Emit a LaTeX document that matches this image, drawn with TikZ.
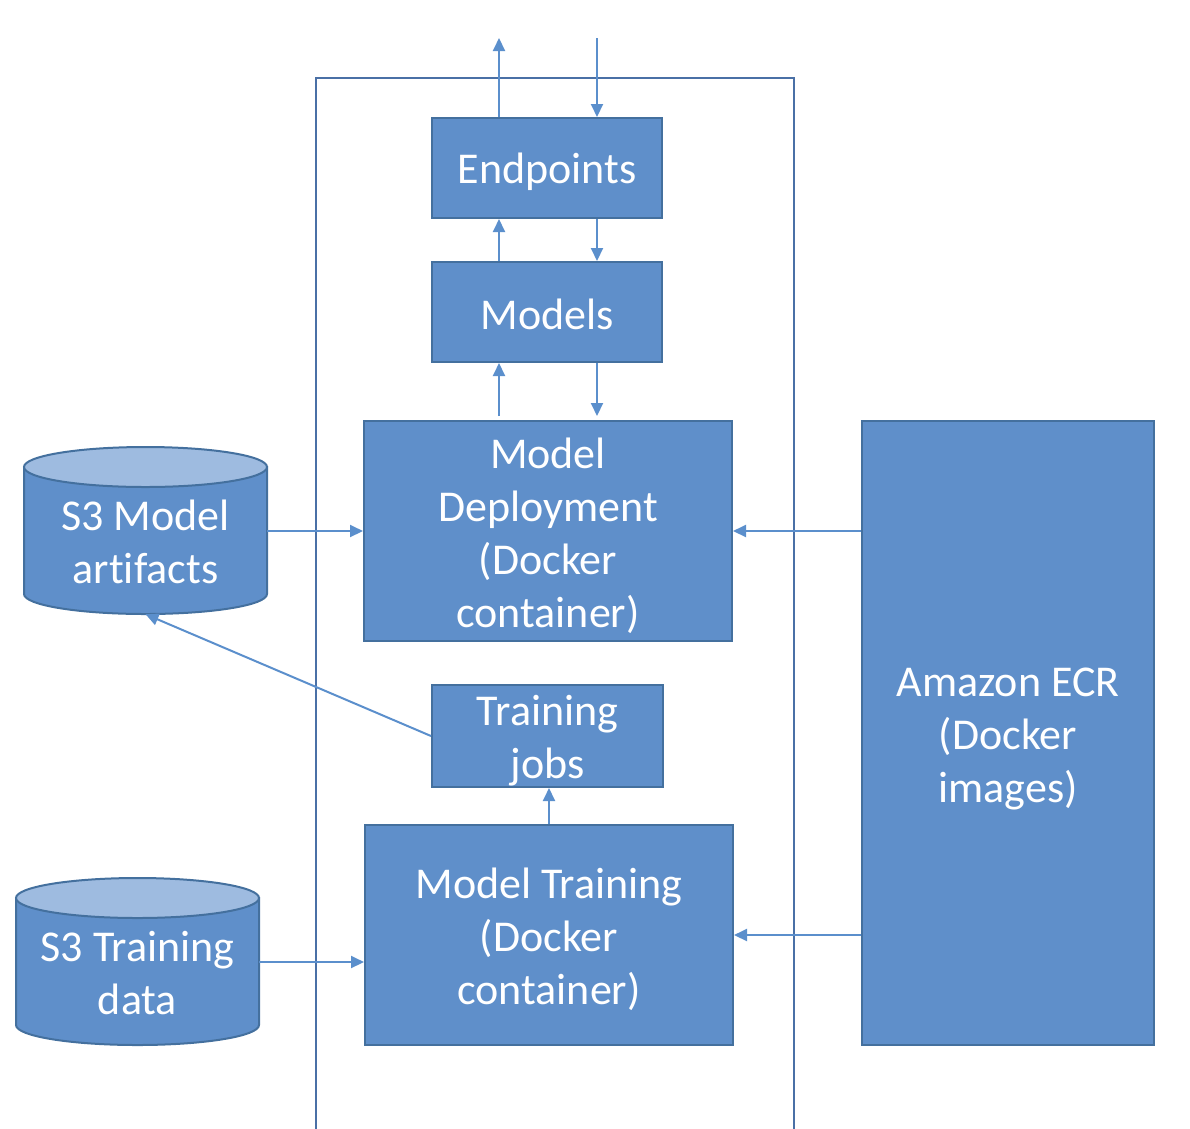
\documentclass[tikz,border=0pt]{standalone}
\usepackage{fontspec}
\setmainfont{Carlito}[RawFeature={-liga;-clig;-calt;-dlig}]
\usetikzlibrary{arrows.meta}
\definecolor{boxfill}{HTML}{5F8FCA}
\definecolor{boxline}{HTML}{44709E}
\definecolor{toplight}{HTML}{9EBBE0}
\definecolor{arrowc}{HTML}{5B8FCC}
\definecolor{framec}{HTML}{4A70A6}
\tikzset{
  box/.style={draw=boxline, fill=boxfill, line width=2pt, inner sep=0pt},
  boxtext/.style={inner sep=0pt, text=white, align=center, font=\fontsize{44}{53}\selectfont},
  conn/.style={draw=arrowc, line width=2pt, -{Triangle[length=13pt,width=12pt]}},
  frame/.style={draw=framec, line width=2pt},
  cylbody/.style={draw=boxline, fill=boxfill, line width=2pt},
  cyltop/.style={draw=boxline, fill=toplight, line width=2pt}
}
\begin{document}
\begin{tikzpicture}[x=1pt,y=-1pt]
\useasboundingbox (0,0) rectangle (1190,1128);
% outer frame (open at bottom)
\draw[frame] (316,1130) -- (316,78) -- (794,78) -- (794,1130);

% boxes
\node[box, minimum width=230pt, minimum height=100pt,
  label={[boxtext, yshift=-4pt]center:Endpoints}] (ep) at (547,168) {};
\node[box, minimum width=230pt, minimum height=100pt,
  label={[boxtext, yshift=-2pt]center:Models}] (mo) at (547,312) {};
\node[box, minimum width=368pt, minimum height=220pt,
  label={[boxtext, yshift=-4.5pt]center:Model\\Deployment\\(Docker\\container)}] (md) at (548,531) {};
\node[box, minimum width=231pt, minimum height=102pt,
  label={[boxtext, yshift=-5pt]center:Training\\jobs}] (tj) at (547.5,736) {};
\node[box, minimum width=368pt, minimum height=220pt,
  label={[boxtext, yshift=-4pt]center:Model Training\\(Docker\\container)}] (mt) at (549,935) {};
\node[box, minimum width=292pt, minimum height=624pt,
  label={[boxtext, yshift=-6pt]center:Amazon ECR\\(Docker\\images)}] (ecr) at (1008,733) {};

% S3 Model artifacts cylinder
\path[cylbody] (24,467) -- (24,594) arc[start angle=180, end angle=0, x radius=121.5, y radius=20] -- (267,467) -- cycle;
\path[cyltop] (145.5,467) ellipse[x radius=121.5, y radius=20];
\node[boxtext, minimum width=243pt, minimum height=167pt] (s3m) at (145.5,530.5) {};
\node[boxtext] (s3mt) at (145.5,542) {S3 Model\\artifacts};

% S3 Training data cylinder
\path[cylbody] (16,898) -- (16,1025) arc[start angle=180, end angle=0, x radius=121.5, y radius=20] -- (259,898) -- cycle;
\path[cyltop] (137.5,898) ellipse[x radius=121.5, y radius=20];
\node[boxtext, minimum width=243pt, minimum height=167pt] (s3t) at (137.5,961.5) {};
\node[boxtext] (s3tt) at (137.5,973) {S3 Training\\data};

% free ends
\coordinate (outTop) at (499,38);
\coordinate (inTop) at (597,38);

% connectors
\draw[conn] (ep.north -| outTop) -- (outTop);
\draw[conn] (inTop) -- (ep.north -| inTop);
\draw[conn] (mo.north -| outTop) -- (ep.south -| outTop);
\draw[conn] (ep.south -| inTop) -- (mo.north -| inTop);
\draw[conn] ([yshift=4pt]md.north -| outTop) -- (mo.south -| outTop);
\draw[conn] (mo.south -| inTop) -- ([yshift=4pt]md.north -| inTop);
\draw[conn] (s3m.east |- md.west) -- (md.west);
\draw[conn] (ecr.west |- md.west) -- (md.east);
\draw[conn] (tj.west) -- (s3m.south);
\draw[conn] (mt.north -| 549,0) -- (tj.south -| 549,0);
\draw[conn] (s3t.east |- 0,962) -- (mt.west |- 0,962);
\draw[conn] (ecr.west |- mt.east) -- (mt.east);
\end{tikzpicture}
\end{document}
